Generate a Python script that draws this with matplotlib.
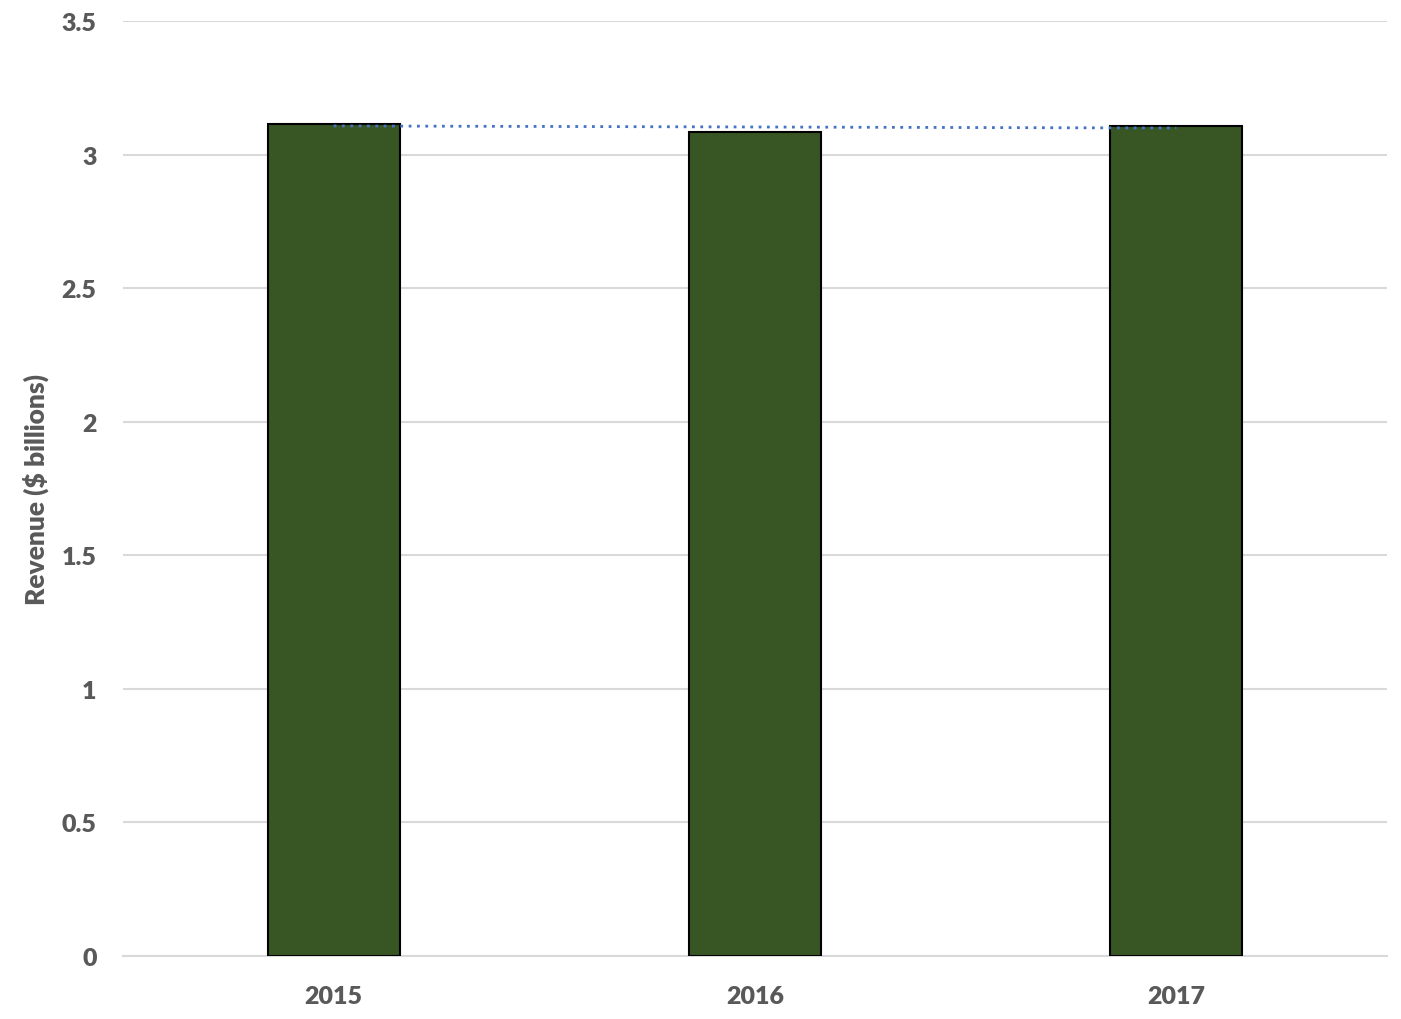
import numpy as np
import matplotlib

matplotlib.use("Agg")

import matplotlib.pyplot as plt

years = ["2015", "2016", "2017"]
revenue = [3.116, 3.086, 3.108]
y_ticks = [0, 0.5, 1, 1.5, 2, 2.5, 3, 3.5]
y_tick_labels = ["0", "0.5", "1", "1.5", "2", "2.5", "3", "3.5"]

plt.rcParams["font.family"] = ["Lato", "DejaVu Sans"]

fig = plt.figure(figsize=(14.01, 10.2), dpi=100)
ax = fig.add_axes([0.0878, 0.0618, 0.9022, 0.9166])

x = np.arange(len(years))
ax.bar(x, revenue, width=0.313, color="#375623", edgecolor="black", linewidth=1.5, zorder=3)

# linear trendline across the bars
coef = np.polyfit(x, revenue, 1)
ax.plot(x, np.polyval(coef, x), color="#4472C4", linestyle=(0, (1, 2)), linewidth=2, zorder=4)

ax.set_xlim(-0.5, 2.5)
ax.set_ylim(0, 3.5)
ax.set_yticks(y_ticks)
ax.set_yticklabels(y_tick_labels)
ax.set_xticks(x)
ax.set_xticklabels(years)
ax.grid(axis="y", color="#d9d9d9", linewidth=1.5, zorder=0)
for spine in ["top", "right", "left"]:
    ax.spines[spine].set_visible(False)
ax.spines["bottom"].set_color("#d9d9d9")
ax.spines["bottom"].set_linewidth(1.5)
ax.tick_params(length=0, labelsize=18, labelcolor="#595959")
ax.tick_params(axis="y", pad=19)
ax.tick_params(axis="x", pad=21)
for label in ax.get_xticklabels() + ax.get_yticklabels():
    label.set_fontweight("heavy")
ax.set_ylabel("Revenue ($ billions)", fontsize=19, fontweight="heavy", color="#595959", labelpad=9)

fig.savefig("out.png", dpi=100)
